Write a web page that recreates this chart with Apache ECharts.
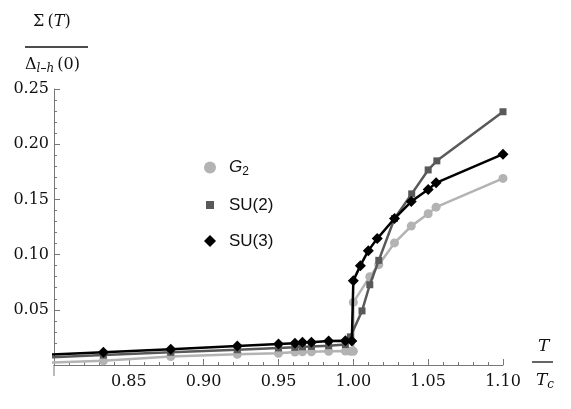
<!DOCTYPE html>
<html>
<head>
<meta charset="utf-8">
<script src="https://cdn.jsdelivr.net/npm/echarts@6/dist/echarts.min.js"></script>
<style>
  html, body { margin: 0; padding: 0; background: #fff; }
  #chart { width: 571px; height: 409px; }
</style>
</head>
<body>
<div id="chart"></div>
<script>
// T / Tc for each series (first point lies left of the axis, line only)
var tG2 = [0.78, 0.833, 0.878, 0.9225, 0.95, 0.961, 0.966, 0.972, 0.9835, 0.9947, 0.998, 1.000, 1.000, 1.011, 1.017, 1.0275, 1.0387, 1.050, 1.0553, 1.100]
var g2 = [0.0015, 0.0039, 0.0076, 0.0097, 0.0106, 0.0118, 0.0119, 0.0119, 0.0125, 0.0126, 0.0125, 0.0125, 0.0567, 0.080, 0.0909, 0.1106, 0.1258, 0.137, 0.143, 0.169]

var tSU2 = [0.78, 0.833, 0.878, 0.9225, 0.95, 0.961, 0.966, 0.972, 0.9835, 0.9947, 0.998, 1.0058, 1.011, 1.017, 1.0275, 1.039, 1.050, 1.0558, 1.100]
var su2 = [0.006, 0.009, 0.0115, 0.0138, 0.0155, 0.016, 0.0165, 0.0168, 0.0175, 0.0185, 0.0255, 0.049, 0.0727, 0.0948, 0.1327, 0.155, 0.1767, 0.1849, 0.2294]

var tSU3 = [0.78, 0.833, 0.878, 0.9225, 0.95, 0.961, 0.966, 0.972, 0.9835, 0.9947, 0.999, 1.000, 1.0047, 1.010, 1.016, 1.0275, 1.0387, 1.050, 1.0553, 1.100]
var su3 = [0.0085, 0.0115, 0.0143, 0.0173, 0.019, 0.0197, 0.0206, 0.0206, 0.0218, 0.022, 0.0218, 0.0764, 0.090, 0.1036, 0.1145, 0.1327, 0.148, 0.159, 0.165, 0.191]

var xTicks = ['0.85', '0.90', '0.95', '1.00', '1.05', '1.10']
var yTicks = ['0.05', '0.10', '0.15', '0.20', '0.25']

function pairs(ts, vs) {
  return ts.map(function (t, i) {
    if (t < 0.8) return { value: [t, vs[i]], symbol: 'none' }
    return [t, vs[i]]
  })
}

function fmt(list) {
  return function (v) {
    var s = v.toFixed(2)
    return list.indexOf(s) >= 0 ? s : ''
  }
}

var chart = echarts.init(document.getElementById('chart'), null, { renderer: 'canvas' })

var axisGray = '#777'
var serif = 'DejaVu Serif'

chart.setOption({
  animation: false,
  backgroundColor: '#fff',
  grid: {
    left: 54,
    right: 68,
    top: 89,
    bottom: 44
  },
  legend: {
    orient: 'vertical',
    left: 199,
    top: 154,
    itemWidth: 12,
    itemHeight: 12,
    itemGap: 19,
    selectedMode: false,
    textStyle: {
      fontFamily: 'Liberation Sans',
      fontSize: 17,
      color: '#111',
      padding: [0, 0, 0, 8],
      rich: {
        i: { fontFamily: 'Liberation Sans', fontStyle: 'italic', fontSize: 17, color: '#111' },
        s: { fontFamily: 'Liberation Sans', fontSize: 12, color: '#111', padding: [8, 0, 0, 0] }
      }
    },
    formatter: function (name) {
      if (name === 'G2') return '{i|G}{s|2}'
      return name
    },
    data: [
      { name: 'G2', icon: 'circle' },
      { name: 'SU(2)', icon: 'path://M0,0 M12,12 M2,2 L10,2 L10,10 L2,10 Z' },
      { name: 'SU(3)', icon: 'diamond' }
    ]
  },
  xAxis: {
    type: 'value',
    min: 0.8,
    max: 1.1,
    interval: 0.05,
    axisLine: { onZero: true, lineStyle: { color: axisGray, width: 1 } },
    axisTick: { inside: true, length: 6, lineStyle: { color: axisGray } },
    minorTick: { show: true, splitNumber: 5, length: 3, lineStyle: { color: axisGray } },
    splitLine: { show: false },
    axisLabel: {
      fontFamily: serif,
      fontSize: 16,
      color: '#111',
      margin: 9,
      showMinLabel: true,
      formatter: fmt(xTicks)
    }
  },
  yAxis: {
    type: 'value',
    min: 0,
    max: 0.25,
    interval: 0.05,
    axisLine: { show: true, lineStyle: { color: axisGray, width: 1 } },
    axisTick: { show: true, inside: true, length: 6, lineStyle: { color: axisGray } },
    minorTick: { show: true, splitNumber: 5, length: 3, lineStyle: { color: axisGray } },
    splitLine: { show: false },
    axisLabel: {
      fontFamily: serif,
      fontSize: 16,
      color: '#111',
      margin: 5,
      formatter: fmt(yTicks)
    }
  },
  graphic: [
    {
      type: 'text',
      left: 33,
      top: 14,
      style: {
        text: '{u|Σ\u2009(}{it|T}{u|)}',
        rich: {
          u: { fontFamily: serif, fontSize: 16, fill: '#111' },
          it: { fontFamily: serif, fontSize: 16, fontStyle: 'italic', fill: '#111' }
        }
      }
    },
    {
      type: 'line',
      shape: { x1: 25, y1: 47, x2: 88, y2: 47 },
      style: { stroke: '#111', lineWidth: 1.3 }
    },
    {
      type: 'text',
      left: 25,
      top: 57,
      style: {
        text: '{u|Δ}{sub|l\u2013h}{u|\u2009(0)}',
        rich: {
          u: { fontFamily: serif, fontSize: 16, fill: '#111' },
          sub: { fontFamily: serif, fontSize: 12, fontStyle: 'italic', fill: '#111', padding: [8, 0, 0, 0] }
        }
      }
    },
    {
      type: 'line',
      shape: { x1: 54, y1: 365, x2: 54, y2: 376 },
      style: { stroke: axisGray, lineWidth: 1 }
    },
    {
      type: 'text',
      left: 538,
      top: 338,
      style: { text: 'T', fontFamily: serif, fontSize: 17, fontStyle: 'italic', fill: '#111' }
    },
    {
      type: 'line',
      shape: { x1: 532, y1: 362, x2: 553, y2: 362 },
      style: { stroke: '#111', lineWidth: 1.3 }
    },
    {
      type: 'text',
      left: 536,
      top: 372,
      style: {
        text: '{t|T}{c|c}',
        rich: {
          t: { fontFamily: serif, fontSize: 17, fontStyle: 'italic', fill: '#111' },
          c: { fontFamily: serif, fontSize: 12, fontStyle: 'italic', fill: '#111', padding: [8, 0, 0, 0] }
        }
      }
    }
  ],
  series: [
    {
      name: 'G2',
      type: 'line',
      clip: false,
      data: pairs(tG2, g2),
      symbol: 'circle',
      symbolSize: 9,
      lineStyle: { color: '#b3b3b3', width: 2.5 },
      itemStyle: { color: '#b3b3b3' },
      z: 2
    },
    {
      name: 'SU(2)',
      type: 'line',
      clip: false,
      data: pairs(tSU2, su2),
      symbol: 'rect',
      symbolSize: 7,
      lineStyle: { color: '#595959', width: 2.5 },
      itemStyle: { color: '#595959' },
      z: 3
    },
    {
      name: 'SU(3)',
      type: 'line',
      clip: false,
      data: pairs(tSU3, su3),
      symbol: 'diamond',
      symbolSize: 11,
      lineStyle: { color: '#000', width: 2.5 },
      itemStyle: { color: '#000' },
      z: 4
    }
  ]
})
</script>
</body>
</html>
